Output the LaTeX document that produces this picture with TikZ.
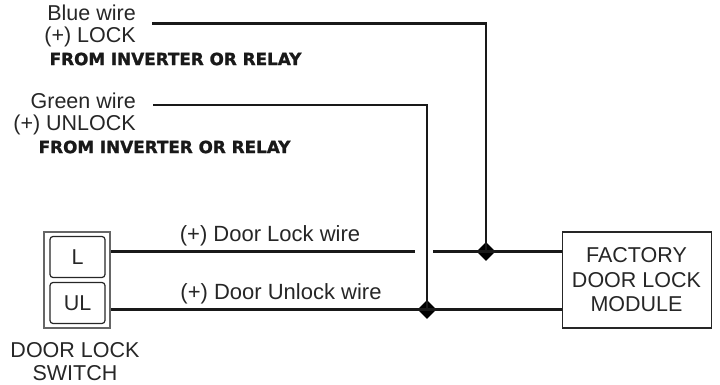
\documentclass[tikz,border=0pt]{standalone}
\usepackage{fontspec}
\setmainfont{Liberation Sans}
\newfontfamily\boldwide{DejaVu Sans}[BoldFont={DejaVu Sans Bold},BoldFeatures={FakeBold=1.5}]
\tikzset{
  wire/.style={line width=2.8pt,draw=black!90},
  lbl/.style={font=\fontsize{21.5}{21.5}\selectfont,text=black!85,inner sep=0pt,align=center},
  side/.style={lbl,align=right,anchor=east},
  note/.style={font=\fontsize{16.8}{18}\selectfont\boldwide\bfseries,inner sep=0pt,text=black!90},
  junction/.style={diamond,fill=black,inner sep=0pt,minimum width=19pt,minimum height=19pt},
  switchkey/.style={draw=black!85,line width=1.2pt,rounded corners=3pt,minimum width=55pt,minimum height=41pt,inner sep=0pt,font=\fontsize{21.5}{23}\selectfont,text=black!85},
}
\usetikzlibrary{shapes.geometric}
\begin{document}
\begin{tikzpicture}[x=1pt,y=-1pt]
\useasboundingbox (0,0) rectangle (720,385);
\node[draw=black!60,line width=2pt,minimum width=66pt,minimum height=96pt,inner sep=0pt] (sw) at (77,280) {};
\node[switchkey] (L) at (77.5,257) {L};
\node[switchkey] (UL) at (77.5,303) {UL};
\node[draw=black!85,line width=1.4pt,minimum width=149pt,minimum height=96pt,inner sep=0pt] (mod) at (637,280) {};
\node[lbl,font=\fontsize{21.5}{24.5}\selectfont] (modt) at (636.5,280) {FACTORY\\DOOR LOCK\\MODULE};
\node[side] (blue) at (136,26) {Blue wire\\(+) LOCK};
\node[note,anchor=west] (from1) at (49.5,59) {FROM INVERTER OR RELAY};
\node[side] (green) at (136,114) {Green wire\\(+) UNLOCK};
\node[note,anchor=west] (from2) at (38.5,147) {FROM INVERTER OR RELAY};
\node[lbl,font=\fontsize{22}{23}\selectfont,anchor=base] (dl) at (270,241) {(+) Door Lock wire};
\node[lbl,font=\fontsize{22}{23}\selectfont,anchor=base] (dul) at (281,299) {(+) Door Unlock wire};
\node[lbl,font=\fontsize{21.5}{23}\selectfont] (swt) at (75,361.5) {DOOR LOCK\\SWITCH};
\node[junction] (j1) at (486,251.5) {};
\node[junction] (j2) at (427,309.5) {};
\coordinate (b0) at (152,23.5);
\coordinate (g0) at (153,105);
\coordinate (gapL) at (415,251.5);
\coordinate (gapR) at (433,251.5);
\draw[wire] (b0) -| (j1.center);
\draw[wire] (g0) -| (j2.center);
\draw[wire] (sw.east |- j1) -- (gapL);
\draw[wire] (gapR) -- (j1.center) -- (mod.west |- j1);
\draw[wire] (sw.east |- j2) -- (j2.center) -- (mod.west |- j2);
\end{tikzpicture}
\end{document}
